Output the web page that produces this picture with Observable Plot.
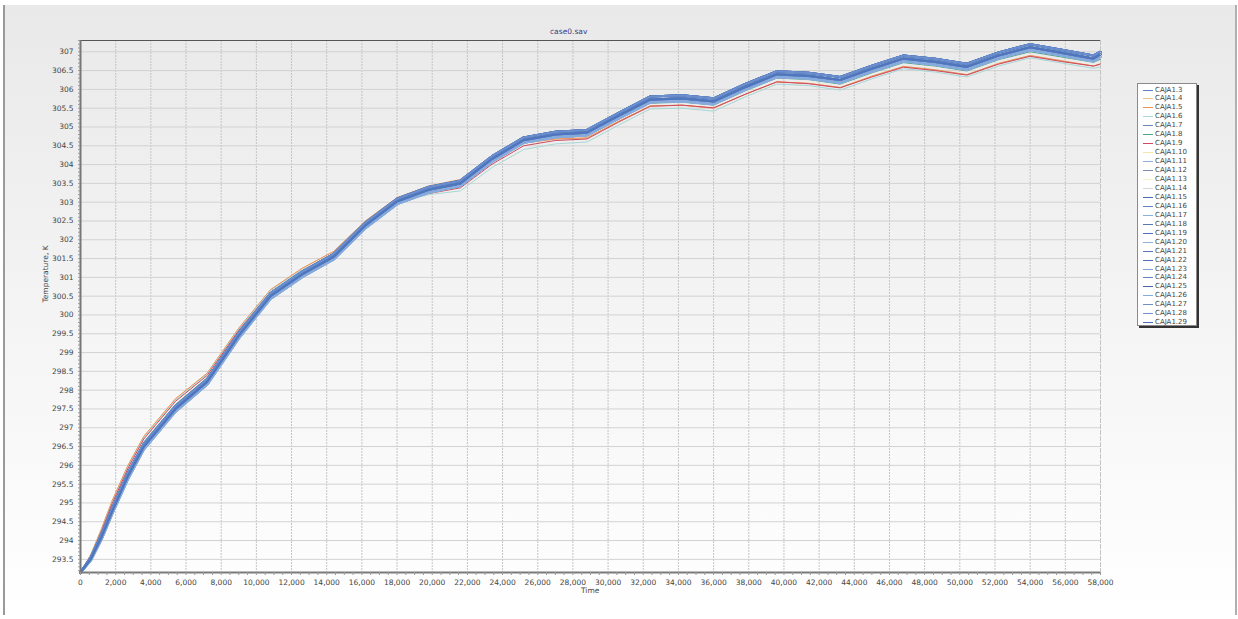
<!DOCTYPE html>
<html>
<head>
<meta charset="utf-8">
<script src="https://cdn.jsdelivr.net/npm/d3@7"></script>
<script src="https://cdn.jsdelivr.net/npm/@observablehq/plot@0.6"></script>
<style>
  html, body { margin: 0; padding: 0; background: #ffffff; }
  #wrap { position: relative; width: 1238px; height: 619px; overflow: hidden; font-family: "DejaVu Sans", Verdana, sans-serif; }
  #bg { position: absolute; left: 3px; top: 5px; width: 1230px; height: 610px;
        background: linear-gradient(#e9e9e9, #f4f4f4 50%, #ffffff);
        border-left: 2px solid #9a9a9a; border-right: 2px solid #b0b0b0; }
  #chart { position: absolute; left: 0; top: 0; }
  .txt { position: absolute; font-size: 7.5px; color: #444; white-space: nowrap; }
  #title { left: 550px; top: 27px; color: #3b3b86; }
  #xlabel { left: 581px; top: 586px; }
  #ylabel { left: 45px; top: 274px; transform: translate(-50%, -50%) rotate(-90deg); }
  #legend { position: absolute; left: 1137px; top: 83px; width: 58px; height: 241px;
            background: #ffffff; border: 1px solid #8a8a8a; box-shadow: 2px 2px 0 #333; }
  .item { position: absolute; left: 0; height: 9px; width: 58px; font-size: 7px; color: #444; }
  .sw { position: absolute; left: 5px; top: 4px; width: 10px; height: 1px; }
  .lab { position: absolute; left: 17px; top: 0px; line-height: 9px; }
</style>
</head>
<body>
<div id="wrap">
  <div id="bg"></div>
  <div id="chart"></div>
  <div id="title" class="txt">case0.sav</div>
  <div id="xlabel" class="txt">Time</div>
  <div id="ylabel" class="txt">Temperature, K</div>
  <div id="legend"></div>
</div>
<script>
// ---- data ----
const titleText = "case0.sav";
const xLabel = "Time";
const yLabel = "Temperature, K";

const times = [0,600,1200,1800,2700,3600,5400,7200,9000,10800,12600,14400,16200,18000,19800,21600,23400,25200,27000,28800,30600,32400,34200,36000,37800,39600,41400,43200,45000,46800,48600,50400,52200,54000,55800,57600,58000];

const blueMid = [293.15,293.52,294.1,294.78,295.72,296.5,297.5,298.22,299.45,300.5,301.08,301.55,302.38,303.02,303.33,303.5,304.15,304.65,304.8,304.85,305.3,305.73,305.76,305.68,306.06,306.4,306.36,306.25,306.55,306.82,306.73,306.6,306.9,307.12,306.97,306.82,306.93];
const blueTop = [293.15,293.56,294.16,294.85,295.8,296.57,297.57,298.29,299.52,300.57,301.15,301.62,302.45,303.09,303.4,303.57,304.22,304.72,304.87,304.92,305.37,305.81,305.84,305.76,306.14,306.48,306.44,306.33,306.63,306.9,306.81,306.68,306.98,307.2,307.05,306.9,307.0];
const blueBot = [293.15,293.48,294.04,294.71,295.64,296.43,297.43,298.15,299.38,300.43,301.01,301.48,302.31,302.95,303.26,303.43,304.08,304.58,304.73,304.78,305.23,305.66,305.69,305.61,305.99,306.33,306.29,306.18,306.48,306.75,306.66,306.53,306.83,307.05,306.9,306.75,306.86];
const warmA = [293.15,293.64,294.32,295.06,296.0,296.77,297.77,298.45,299.65,300.67,301.24,301.69,302.5,303.12,303.43,303.6,304.15,304.57,304.68,304.71,305.15,305.56,305.58,305.5,305.87,306.2,306.16,306.05,306.35,306.61,306.52,306.39,306.69,306.9,306.76,306.62,306.68];
const warmB = [293.15,293.6,294.26,294.98,295.92,296.7,297.7,298.39,299.59,300.6,301.16,301.6,302.4,302.97,303.23,303.38,304.01,304.5,304.64,304.68,305.13,305.55,305.58,305.51,305.87,306.2,306.15,306.04,306.33,306.59,306.5,306.38,306.67,306.88,306.74,306.62,306.67];
const green = [293.15,293.58,294.2,294.9,295.84,296.62,297.62,298.33,299.54,300.58,301.14,301.59,302.4,303.02,303.3,303.45,304.08,304.57,304.71,304.76,305.2,305.63,305.66,305.58,305.96,306.3,306.26,306.14,306.44,306.71,306.62,306.49,306.79,307.0,306.86,306.72,306.8];
const teal = [293.15,293.62,294.28,295.0,295.95,296.73,297.73,298.42,299.62,300.64,301.2,301.63,302.42,303.0,303.2,303.3,303.92,304.4,304.55,304.6,305.05,305.48,305.5,305.42,305.8,306.14,306.1,305.98,306.28,306.55,306.46,306.33,306.62,306.84,306.7,306.56,306.6];

const profiles = {blueMid, blueTop, blueBot, warmA, warmB, green, teal};

const seriesNames = ["CAJA1.3","CAJA1.4","CAJA1.5","CAJA1.6","CAJA1.7","CAJA1.8","CAJA1.9","CAJA1.10","CAJA1.11","CAJA1.12","CAJA1.13","CAJA1.14","CAJA1.15","CAJA1.16","CAJA1.17","CAJA1.18","CAJA1.19","CAJA1.20","CAJA1.21","CAJA1.22","CAJA1.23","CAJA1.24","CAJA1.25","CAJA1.26","CAJA1.27","CAJA1.28","CAJA1.29"];
const seriesProfile = ["blueMid","warmA","warmA","teal","blueBot","green","warmB","blueTop","blueTop","blueBot","blueBot","blueMid","blueMid","blueTop","blueBot","blueMid","blueTop","blueBot","blueMid","blueTop","blueBot","blueMid","blueTop","blueBot","blueMid","blueTop","blueMid"];
const seriesColors = ["#5d82c8","#f2bf8f","#e8935a","#a6d8d6","#6a86bf","#4aa58e","#cf4a5e","#f6e6a8","#8eb0dc","#7d8cb8","#f7f3c4","#d4d6d8","#4a6cb0","#5f86cc","#8aaedd","#5877b5","#4a72bf","#8db2e0","#5a78b4","#4d70b4","#7fa5dc","#6482bd","#4569ad","#86abde","#7090c4","#6f93d2","#4a72bd"];

const xDomain = [0, 58000];
const yDomain = [293.15, 307.3];
const xTicks = d3.range(0, 58001, 2000);
const xMinor = d3.range(0, 58001, 500);
const yTicks = d3.range(293.5, 307.01, 0.5);
const yMinor = d3.range(293.2, 307.3, 0.1);

// ---- build rows ----
const rows = [];
seriesNames.forEach((name, i) => {
  const vals = profiles[seriesProfile[i]];
  times.forEach((t, j) => rows.push({series: name, order: i, t, T: vals[j]}));
});
const isBlue = s => seriesProfile[seriesNames.indexOf(s)].startsWith("blue");

const plot = Plot.plot({
  width: 1238,
  height: 619,
  marginLeft: 80,
  marginRight: 138,
  marginTop: 40,
  marginBottom: 47,
  style: {background: "transparent", fontFamily: "DejaVu Sans, Verdana, sans-serif", fontSize: "7.5px", color: "#444"},
  x: {domain: xDomain, label: null},
  y: {domain: yDomain, label: null},
  color: {domain: seriesNames, range: seriesColors},
  marks: [
    Plot.gridX(xTicks, {stroke: "#c4c4c4", strokeOpacity: 1, strokeDasharray: "2,1"}),
    Plot.gridY(yTicks, {stroke: "#d2d2d2", strokeOpacity: 1}),
    Plot.line(rows.filter(d => !isBlue(d.series)), {x: "t", y: "T", z: "series", stroke: "series", strokeWidth: 1}),
    Plot.line(rows.filter(d => isBlue(d.series)), {x: "t", y: "T", z: "series", stroke: "series", strokeWidth: 2.2, strokeOpacity: 0.9}),
    Plot.ruleY([yDomain[1]], {stroke: "#555", strokeWidth: 1}),
    Plot.ruleX([xDomain[1]], {stroke: "#c4c4c4", strokeWidth: 1, strokeDasharray: "1,1"}),
    Plot.ruleX([xDomain[0]], {stroke: "#777", strokeWidth: 2}),
    Plot.ruleY([yDomain[0]], {stroke: "#7a7a7a", strokeWidth: 2}),
    Plot.axisX(xMinor, {tickSize: 3, tickFormat: () => "", stroke: "#999", tickPadding: 0, label: null}),
    Plot.axisX(xTicks, {tickSize: 0, tickPadding: 7, tickFormat: d3.format(","), label: null, fill: "#444"}),
    Plot.axisY(yMinor, {tickSize: 2, tickFormat: () => "", stroke: "#999", tickPadding: 0, label: null}),
    Plot.axisY(yTicks, {tickSize: 0, tickPadding: 7, tickFormat: d => d3.format("")(+d.toFixed(1)), label: null, fill: "#444"})
  ]
});
document.getElementById("chart").appendChild(plot);

// ---- legend ----
const legend = document.getElementById("legend");
seriesNames.forEach((name, i) => {
  const it = document.createElement("div");
  it.className = "item";
  it.style.top = (1.5 + i * 8.95) + "px";
  const sw = document.createElement("div");
  sw.className = "sw";
  sw.style.background = seriesColors[i];
  const lb = document.createElement("div");
  lb.className = "lab";
  lb.textContent = name;
  it.appendChild(sw); it.appendChild(lb);
  legend.appendChild(it);
});
document.getElementById("title").textContent = titleText;
document.getElementById("xlabel").textContent = xLabel;
document.getElementById("ylabel").textContent = yLabel;
</script>
</body>
</html>
